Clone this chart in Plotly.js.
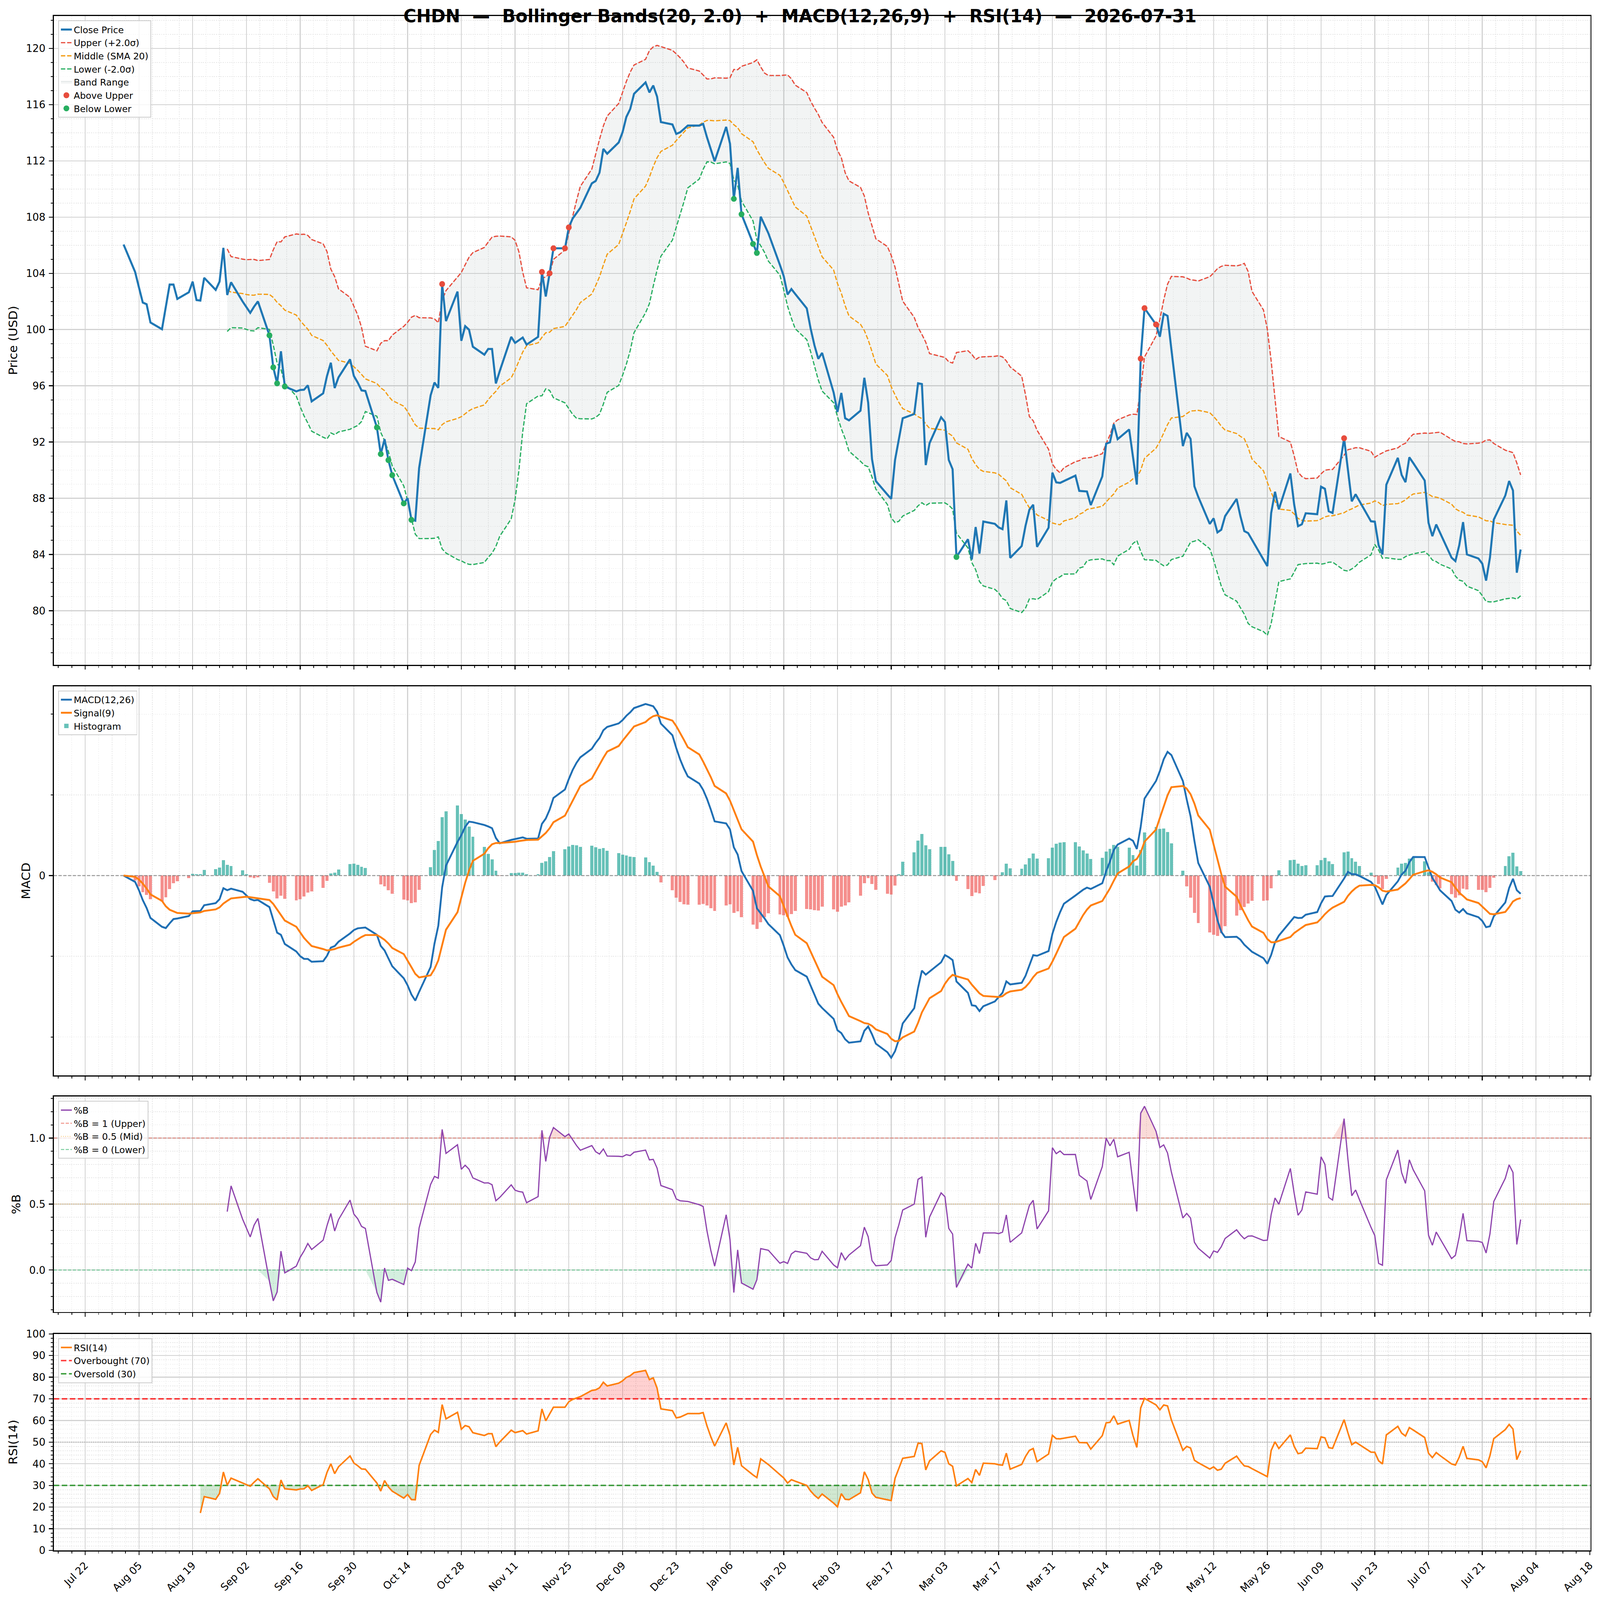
<!DOCTYPE html>
<html>
<head>
<meta charset="utf-8">
<script src="https://cdn.plot.ly/plotly-3.0.1.min.js"></script>
<style>
  html, body { margin: 0; padding: 0; background: white; overflow: hidden; }
  #chart { width: 4377px; height: 4322px; transform-origin: 0 0; }
</style>
</head>
<body>
<div id="chart"></div>
<script>
// daily closes, business days 2025-08-01 .. 2026-07-31
var firstDay = '2025-08-01'
var lastDay = '2026-07-31'
var closePrice = [
    106.05,
    104.1, 103.0, 101.92, 101.8, 100.5,
    100.02, 101.6, 103.2, 103.2, 102.18,
    102.65, 103.41, 102.1, 102.06, 103.68,
    102.82, 103.41, 105.81, 102.46, 103.36,
    102.0, 101.6, 101.19, 101.63, 102.0,
    99.59, 97.31, 96.17, 98.45, 95.95,
    95.6, 95.7, 95.72, 96.03, 94.89,
    95.46, 96.7, 97.64, 95.84, 96.6,
    97.88, 96.7, 96.23, 95.67, 95.63,
    93.04, 91.14, 92.2, 90.71, 89.64,
    87.63, 88.0, 86.46, 86.4, 90.15,
    95.32, 96.23, 95.85, 103.24, 100.6,
    102.7, 99.2, 100.24, 99.99, 98.78,
    98.21, 98.62, 98.62, 96.16, 97.04,
    99.48, 99.05, 99.23, 99.43, 98.93,
    99.48, 104.1, 102.35, 104.0, 105.78,
    105.78, 107.27, 107.9, 108.29, 108.66,
    110.4, 110.57, 111.16, 112.85, 112.51,
    113.31, 114.03, 115.13, 115.69, 116.77,
    117.58, 116.87, 117.36, 116.57, 114.76,
    114.59, 113.92, 114.03, 114.27, 114.51,
    114.51, 114.63, 113.68, 112.8, 111.97,
    114.42, 113.22, 109.3, 111.5, 108.2,
    106.09, 105.45, 108.03, 107.47, 106.85,
    104.6, 103.8, 102.49, 102.88, 102.53,
    101.51, 100.08, 98.88, 97.92, 98.34,
    95.52, 94.14, 95.49, 93.69, 93.54,
    94.23, 96.57, 94.8, 90.78, 89.22,
    88.26, 87.96, 90.72, 92.16, 93.69,
    93.99, 96.18, 96.12, 90.36, 91.92,
    93.76, 93.42, 90.72, 90.06, 83.82,
    85.08, 83.64, 85.95, 84.06, 86.34,
    86.18, 85.92, 85.8, 87.84, 83.76,
    84.6, 86.04, 87.18, 87.54, 84.54,
    85.9, 89.82, 89.13, 89.09, 89.22,
    89.61, 88.52, 88.5, 88.48, 87.51,
    89.55, 91.88, 91.98, 93.26, 92.2,
    92.89, 90.83, 88.97, 97.93, 101.52,
    100.36, 99.49, 101.12, 100.97, 98.59,
    91.71, 92.65, 92.22, 88.85, 88.1,
    86.17, 86.57, 85.57, 85.76, 86.73,
    87.95, 86.7, 85.66, 85.52, 85.03,
    83.63, 83.17, 86.94, 88.46, 87.21,
    89.76, 87.54, 86.01, 86.15, 86.93,
    86.86, 88.82, 88.67, 87.07, 86.95,
    92.27, 90.07, 87.78, 88.28, 87.79,
    86.36, 86.33, 84.65, 84.0, 88.96,
    90.87, 89.65, 89.14, 90.91, 90.51,
    89.26, 86.25, 85.3, 86.13, 85.53,
    83.77, 83.53, 84.65, 86.3, 84.0,
    83.71, 83.35, 82.14, 83.77, 86.48,
    88.19, 89.22, 88.55, 82.7, 84.35
]
var bbWindow = 20
var bbMult = 2.0
var rsiLevels = [70, 50, 30]
var pctBLevels = [1, 0.5, 0]
var titleText = 'CHDN  —  Bollinger Bands(20, 2.0)  +  MACD(12,26,9)  +  RSI(14)  —  2026-07-31'

var DAY = 86400000
var W = 4377, H = 4322

function businessDays(a, b) {
    var out = []
    var t = Date.parse(a + 'T00:00:00Z')
    var end = Date.parse(b + 'T00:00:00Z')
    while (t <= end) {
        var wd = new Date(t).getUTCDay()
        if (wd != 0 && wd != 6) out.push(new Date(t).toISOString().slice(0, 10))
        t += DAY
    }
    return out
}

function fmt(ms) {
    return new Date(ms).toISOString().replace('T', ' ').slice(0, 19)
}

var dates = businessDays(firstDay, lastDay)
var n = closePrice.length

// bollinger
var middle = [], upper = [], lower = []
for (var i = 0; i < n; i++) {
    if (i < bbWindow - 1) { middle.push(null); upper.push(null); lower.push(null); continue }
    var s = 0
    for (var k = i - bbWindow + 1; k <= i; k++) s += closePrice[k]
    var m = s / bbWindow
    var v = 0
    for (var k = i - bbWindow + 1; k <= i; k++) v += (closePrice[k] - m) * (closePrice[k] - m)
    var sd = Math.sqrt(v / (bbWindow - 1))
    middle.push(m); upper.push(m + bbMult * sd); lower.push(m - bbMult * sd)
}

// macd
function ema(arr, span) {
    var a = 2 / (span + 1)
    var out = [arr[0]]
    for (var i = 1; i < arr.length; i++) out.push(a * arr[i] + (1 - a) * out[i - 1])
    return out
}
var ema12 = ema(closePrice, 12)
var ema26 = ema(closePrice, 26)
var macd = ema12.map(function (d, i) { return d - ema26[i] })
var signal = ema(macd, 9)
var hist = macd.map(function (d, i) { return d - signal[i] })

// rsi (wilder)
var rsi = [null]
var ag = 0, al = 0
for (var i = 1; i < n; i++) {
    var d = closePrice[i] - closePrice[i - 1]
    var g = d > 0 ? d : 0
    var l = d < 0 ? -d : 0
    if (i == 1) { ag = g; al = l } else { ag = ag * 13 / 14 + g / 14; al = al * 13 / 14 + l / 14 }
    rsi.push(i >= 14 ? 100 - 100 / (1 + ag / al) : null)
}

// %b
var pctB = closePrice.map(function (c, i) {
    return upper[i] == null ? null : (c - lower[i]) / (upper[i] - lower[i])
})

// signal points
var aboveX = [], aboveY = [], belowX = [], belowY = []
for (var i = 0; i < n; i++) {
    if (upper[i] == null) continue
    if (closePrice[i] > upper[i]) { aboveX.push(dates[i]); aboveY.push(closePrice[i]) }
    if (closePrice[i] < lower[i]) { belowX.push(dates[i]); belowY.push(closePrice[i]) }
}

var bx = dates.slice(bbWindow - 1)
var rx = dates.slice(14)
var rsiV = rsi.slice(14)
var pbV = pctB.slice(bbWindow - 1)

// axis ranges like matplotlib autoscale (5% margins)
var t0 = Date.parse(dates[0] + 'T00:00:00Z'), t1 = Date.parse(dates[n - 1] + 'T00:00:00Z')
var xRange = [fmt(t0 - 0.05 * (t1 - t0)), fmt(t1 + 0.05 * (t1 - t0))]
function padRange(vals) {
    var lo = Math.min.apply(null, vals), hi = Math.max.apply(null, vals)
    var p = 0.05 * (hi - lo)
    return [lo - p, hi + p]
}
var priceRange = padRange(closePrice.concat(upper.slice(bbWindow - 1), lower.slice(bbWindow - 1)))
var macdRange = padRange(macd.concat(signal, hist))
var pbRange = padRange(pbV.concat(pctBLevels))

var macdMinor = []
var mstep = (macdRange[1] - macdRange[0]) / 4.4
var mag = Math.pow(10, Math.floor(Math.log10(mstep)))
var nice = [1, 2, 2.5, 5, 10].map(function (q) { return q * mag })
mstep = nice.reduce(function (a, b) { return Math.abs(b - mstep) < Math.abs(a - mstep) ? b : a })
for (var q = Math.ceil(macdRange[0] / mstep); q * mstep <= macdRange[1]; q++) macdMinor.push(q * mstep)

var font = 'DejaVu Sans'
var teal = 'rgba(38,166,154,0.7)'
var salmon = 'rgba(239,83,80,0.65)'

var traces = [
    // price panel
    { x: bx, y: lower.slice(bbWindow - 1), mode: 'lines', line: { width: 0 }, showlegend: false, hoverinfo: 'skip', xaxis: 'x', yaxis: 'y' },
    { x: bx, y: upper.slice(bbWindow - 1), mode: 'lines', line: { width: 1.5, color: 'rgba(149,165,166,0.3)' }, fill: 'tonexty', fillcolor: 'rgba(149,165,166,0.12)',
      name: 'Band Range', legendrank: 5, legend: 'legend', xaxis: 'x', yaxis: 'y' },
    { x: dates, y: upper, mode: 'lines', name: 'Upper (+2.0σ)', legendrank: 2, line: { color: '#e74c3c', width: 3.3, dash: '12px,5px' }, xaxis: 'x', yaxis: 'y' },
    { x: dates, y: middle, mode: 'lines', name: 'Middle (SMA 20)', legendrank: 3, line: { color: '#f39c12', width: 3.3, dash: '12px,5px' }, xaxis: 'x', yaxis: 'y' },
    { x: dates, y: lower, mode: 'lines', name: 'Lower (-2.0σ)', legendrank: 4, line: { color: '#27ae60', width: 3.3, dash: '12px,5px' }, xaxis: 'x', yaxis: 'y' },
    { x: dates, y: closePrice, mode: 'lines', name: 'Close Price', legendrank: 1, line: { color: '#1f77b4', width: 5.6 }, xaxis: 'x', yaxis: 'y' },
    { x: aboveX, y: aboveY, mode: 'markers', name: 'Above Upper', legendrank: 6, marker: { color: '#e74c3c', size: 16 }, xaxis: 'x', yaxis: 'y' },
    { x: belowX, y: belowY, mode: 'markers', name: 'Below Lower', legendrank: 7, marker: { color: '#27ae60', size: 16 }, xaxis: 'x', yaxis: 'y' },

    // macd panel
    { x: dates, y: hist, type: 'bar', name: 'Histogram', width: 0.8 * DAY, legendrank: 3,
      marker: { color: hist.map(function (h) { return h >= 0 ? teal : salmon }), line: { width: 0 } },
      legend: 'legend2', xaxis: 'x2', yaxis: 'y2' },
    { x: xRange, y: [0, 0], mode: 'lines', line: { color: 'rgba(128,128,128,0.8)', width: 2.5, dash: '9px,4px' }, showlegend: false, hoverinfo: 'skip', xaxis: 'x2', yaxis: 'y2' },
    { x: dates, y: macd, mode: 'lines', name: 'MACD(12,26)', legendrank: 1, line: { color: '#1f6fb4', width: 5 }, legend: 'legend2', xaxis: 'x2', yaxis: 'y2' },
    { x: dates, y: signal, mode: 'lines', name: 'Signal(9)', legendrank: 2, line: { color: '#ff7f0e', width: 5 }, legend: 'legend2', xaxis: 'x2', yaxis: 'y2' },

    // %b panel
    { x: bx, y: bx.map(function () { return 1 }), mode: 'lines', line: { width: 0 }, showlegend: false, hoverinfo: 'skip', xaxis: 'x3', yaxis: 'y3' },
    { x: bx, y: pbV.map(function (p) { return Math.max(p, 1) }), mode: 'lines', line: { width: 0 }, fill: 'tonexty', fillcolor: 'rgba(231,76,60,0.2)', showlegend: false, hoverinfo: 'skip', xaxis: 'x3', yaxis: 'y3' },
    { x: bx, y: bx.map(function () { return 0 }), mode: 'lines', line: { width: 0 }, showlegend: false, hoverinfo: 'skip', xaxis: 'x3', yaxis: 'y3' },
    { x: bx, y: pbV.map(function (p) { return Math.min(p, 0) }), mode: 'lines', line: { width: 0 }, fill: 'tonexty', fillcolor: 'rgba(39,174,96,0.2)', showlegend: false, hoverinfo: 'skip', xaxis: 'x3', yaxis: 'y3' },
    { x: xRange, y: [1, 1], mode: 'lines', name: '%B = 1 (Upper)', legendrank: 2, line: { color: 'rgba(231,76,60,0.6)', width: 2.5, dash: '9px,4px' }, legend: 'legend3', xaxis: 'x3', yaxis: 'y3' },
    { x: xRange, y: [0.5, 0.5], mode: 'lines', name: '%B = 0.5 (Mid)', legendrank: 3, line: { color: 'rgba(243,156,18,0.6)', width: 2.5, dash: '2px,4px' }, legend: 'legend3', xaxis: 'x3', yaxis: 'y3' },
    { x: xRange, y: [0, 0], mode: 'lines', name: '%B = 0 (Lower)', legendrank: 4, line: { color: 'rgba(39,174,96,0.6)', width: 2.5, dash: '9px,4px' }, legend: 'legend3', xaxis: 'x3', yaxis: 'y3' },
    { x: bx, y: pbV, mode: 'lines', name: '%B', legendrank: 1, line: { color: '#8e44ad', width: 3.3 }, legend: 'legend3', xaxis: 'x3', yaxis: 'y3' },

    // rsi panel
    { x: rx, y: rx.map(function () { return 70 }), mode: 'lines', line: { width: 0 }, showlegend: false, hoverinfo: 'skip', xaxis: 'x4', yaxis: 'y4' },
    { x: rx, y: rsiV.map(function (r) { return Math.max(r, 70) }), mode: 'lines', line: { width: 0 }, fill: 'tonexty', fillcolor: 'rgba(255,0,0,0.18)', showlegend: false, hoverinfo: 'skip', xaxis: 'x4', yaxis: 'y4' },
    { x: rx, y: rx.map(function () { return 30 }), mode: 'lines', line: { width: 0 }, showlegend: false, hoverinfo: 'skip', xaxis: 'x4', yaxis: 'y4' },
    { x: rx, y: rsiV.map(function (r) { return Math.min(r, 30) }), mode: 'lines', line: { width: 0 }, fill: 'tonexty', fillcolor: 'rgba(0,128,0,0.18)', showlegend: false, hoverinfo: 'skip', xaxis: 'x4', yaxis: 'y4' },
    { x: xRange, y: [rsiLevels[1], rsiLevels[1]], mode: 'lines', line: { color: 'rgba(128,128,128,0.7)', width: 2.5, dash: '2px,4px' }, showlegend: false, hoverinfo: 'skip', xaxis: 'x4', yaxis: 'y4' },
    { x: xRange, y: [rsiLevels[0], rsiLevels[0]], mode: 'lines', name: 'Overbought (70)', legendrank: 2, line: { color: 'rgba(255,0,0,0.75)', width: 4, dash: '15px,7px' }, legend: 'legend4', xaxis: 'x4', yaxis: 'y4' },
    { x: xRange, y: [rsiLevels[2], rsiLevels[2]], mode: 'lines', name: 'Oversold (30)', legendrank: 3, line: { color: 'rgba(0,128,0,0.75)', width: 4, dash: '15px,7px' }, legend: 'legend4', xaxis: 'x4', yaxis: 'y4' },
    { x: rx, y: rsiV, mode: 'lines', name: 'RSI(14)', legendrank: 1, line: { color: '#ff7f0e', width: 4.2 }, legend: 'legend4', xaxis: 'x4', yaxis: 'y4' }
]

var gridMajor = '#d2d2d2'
var gridMinor = '#e6e6e6'

function xAxis(anchor, labels) {
    return {
        anchor: anchor, domain: [0, 1], type: 'date', range: xRange,
        tick0: '2025-07-22', dtick: 14 * DAY, tickformat: '%b %d', tickangle: -45,
        showticklabels: labels, ticks: 'outside', ticklen: 10, tickwidth: 2.5, tickcolor: '#000',
        showgrid: true, gridcolor: gridMajor, gridwidth: 2.5,
        minor: { tick0: '2025-07-22', dtick: 3.5 * DAY, ticks: 'outside', ticklen: 5, tickwidth: 2, tickcolor: '#000',
                 showgrid: true, gridcolor: gridMinor, gridwidth: 1.6, griddash: 'dot' },
        showline: true, linecolor: '#000', linewidth: 3, mirror: true, zeroline: false,
        tickfont: { size: 28, color: '#000' }
    }
}

function yAxis(anchor, domain, title, extra) {
    var ax = {
        anchor: anchor, domain: domain,
        title: { text: title, font: { size: 33, color: '#000' }, standoff: 14 },
        ticks: 'outside', ticklen: 10, tickwidth: 2.5, tickcolor: '#000', ticklabelstandoff: 4,
        showgrid: true, gridcolor: gridMajor, gridwidth: 2.5,
        showline: true, linecolor: '#000', linewidth: 3, mirror: true, zeroline: false,
        tickfont: { size: 28, color: '#000' }
    }
    for (var key in extra) ax[key] = extra[key]
    return ax
}

function minorY(d) {
    return { dtick: d, ticks: 'outside', ticklen: 5, tickwidth: 2, tickcolor: '#000', showgrid: true, gridcolor: gridMinor, gridwidth: 1.6, griddash: 'dot' }
}

function legendBox(y) {
    return { x: 0.003, y: y, xanchor: 'left', yanchor: 'top', bgcolor: 'rgba(255,255,255,0.8)', traceorder: 'normal',
             bordercolor: '#cccccc', borderwidth: 2, font: { size: 25, color: '#000' }, tracegroupgap: 0 }
}

var layout = {
    width: W, height: H,
    margin: { l: 147, r: 26, t: 43, b: 134 },
    paper_bgcolor: 'white', plot_bgcolor: 'white',
    font: { family: font, color: '#000' },
    title: { text: titleText, x: 0.5, xref: 'container', y: 1 - 43 / H, yref: 'container', yanchor: 'middle',
             font: { size: 48, weight: 'bold', color: '#000' } },
    hovermode: false,
    bargap: 0,
    xaxis: xAxis('y', false),
    xaxis2: xAxis('y2', false),
    xaxis3: xAxis('y3', false),
    xaxis4: xAxis('y4', true),
    yaxis: yAxis('x', [0.5771, 1], 'Price (USD)', { range: priceRange, tick0: 0, dtick: 4, minor: minorY(1) }),
    yaxis2: yAxis('x2', [0.3095, 0.5631], 'MACD', { range: macdRange, tickmode: 'array', tickvals: [0], ticktext: ['0'], showgrid: false,
        minor: { tickmode: 'array', tickvals: macdMinor, ticks: 'outside', ticklen: 5, tickwidth: 2, tickcolor: '#000', showgrid: true, gridcolor: gridMinor, gridwidth: 1.6, griddash: 'dot' } }),
    yaxis3: yAxis('x3', [0.1554, 0.2958], '%B', { range: pbRange, tickmode: 'array', tickvals: [0, 0.5, 1], ticktext: ['0.0', '0.5', '1.0'], minor: minorY(0.1) }),
    yaxis4: yAxis('x4', [0, 0.1411], 'RSI(14)', { range: [0, 100], tick0: 0, dtick: 10, minor: minorY(2) }),
    legend: legendBox(0.9971),
    legend2: legendBox(0.5604),
    legend3: legendBox(0.2929),
    legend4: legendBox(0.1382)
}

var config = { responsive: false, displayModeBar: false, staticPlot: true }

// the window may be smaller in css px than the target picture, so fit the chart to it
function fitChart() {
    var sx = window.innerWidth / W, sy = window.innerHeight / H
    document.getElementById('chart').style.transform = 'scale(' + sx + ',' + sy + ')'
}
fitChart()

Plotly.newPlot('chart', traces, layout, config)
</script>
</body>
</html>
